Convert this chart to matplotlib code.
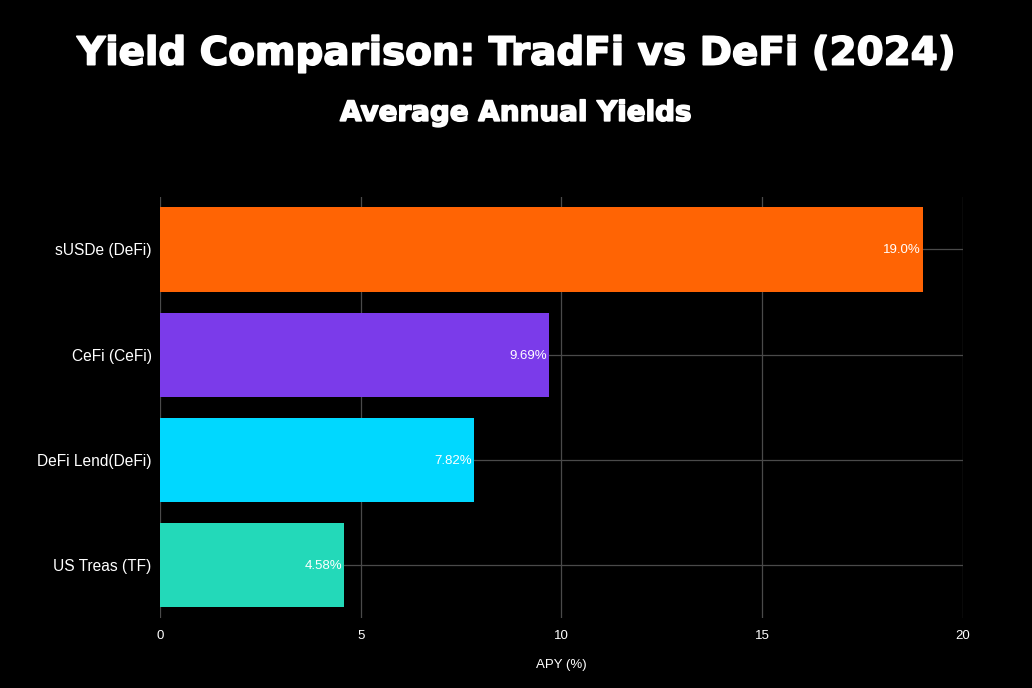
import matplotlib
matplotlib.use('Agg')
import matplotlib.pyplot as plt
import matplotlib.patheffects as pe
import numpy as np

# Chart data
categories = ['sUSDe (DeFi)', 'CeFi (CeFi)', 'DeFi Lend(DeFi)', 'US Treas (TF)']
apy = [19.0, 9.69, 7.82, 4.58]
value_labels = ['19.0%', '9.69%', '7.82%', '4.58%']
bar_colors = ['#FF6404', '#7B3BEA', '#00D8FF', '#23D9B9']
x_ticks = [0, 5, 10, 15, 20]

fig = plt.figure(figsize=(10.32, 6.88), dpi=100, facecolor='black')
ax = fig.add_axes([0.155, 0.102, 0.778, 0.612])
ax.set_facecolor('black')

y = np.arange(len(categories))
ax.barh(y, apy, height=0.8, color=bar_colors, zorder=2)

# value labels inside bar ends
for yi, v, lab in zip(y, apy, value_labels):
    ax.text(v - 0.05, yi + 0.01, lab, ha='right', va='center', color='white',
            fontsize=9.5, family='Liberation Sans', zorder=3)

ax.set_xlim(0, 20)
ax.set_ylim(len(categories) - 0.5, -0.5)
ax.set_xticks(x_ticks)
ax.set_yticks(y)
ax.set_yticklabels(categories)
ax.tick_params(axis='both', length=0, colors='white')
ax.tick_params(axis='x', pad=9, labelsize=9.5)
ax.tick_params(axis='y', pad=6, labelsize=11.2)
for lab in ax.get_xticklabels() + ax.get_yticklabels():
    lab.set_family('Liberation Sans')
ax.grid(True, axis='both', color='#4a4a4a', linewidth=0.9, zorder=0)
ax.set_axisbelow(True)
for s in ax.spines.values():
    s.set_visible(False)

ax.set_xlabel('APY (%)', color='white', fontsize=9.5, family='Liberation Sans', labelpad=12)

heavy = [pe.withStroke(linewidth=1.2, foreground='white')]
fig.text(0.5, 0.922, 'Yield Comparison: TradFi vs DeFi (2024)', ha='center', va='center',
         color='white', fontsize=28, fontweight='bold', family='DejaVu Sans',
         path_effects=heavy)
fig.text(0.5, 0.836, 'Average Annual Yields', ha='center', va='center',
         color='white', fontsize=20, fontweight='bold', family='DejaVu Sans',
         path_effects=heavy)

fig.savefig('out.png', dpi=100, facecolor='black')
